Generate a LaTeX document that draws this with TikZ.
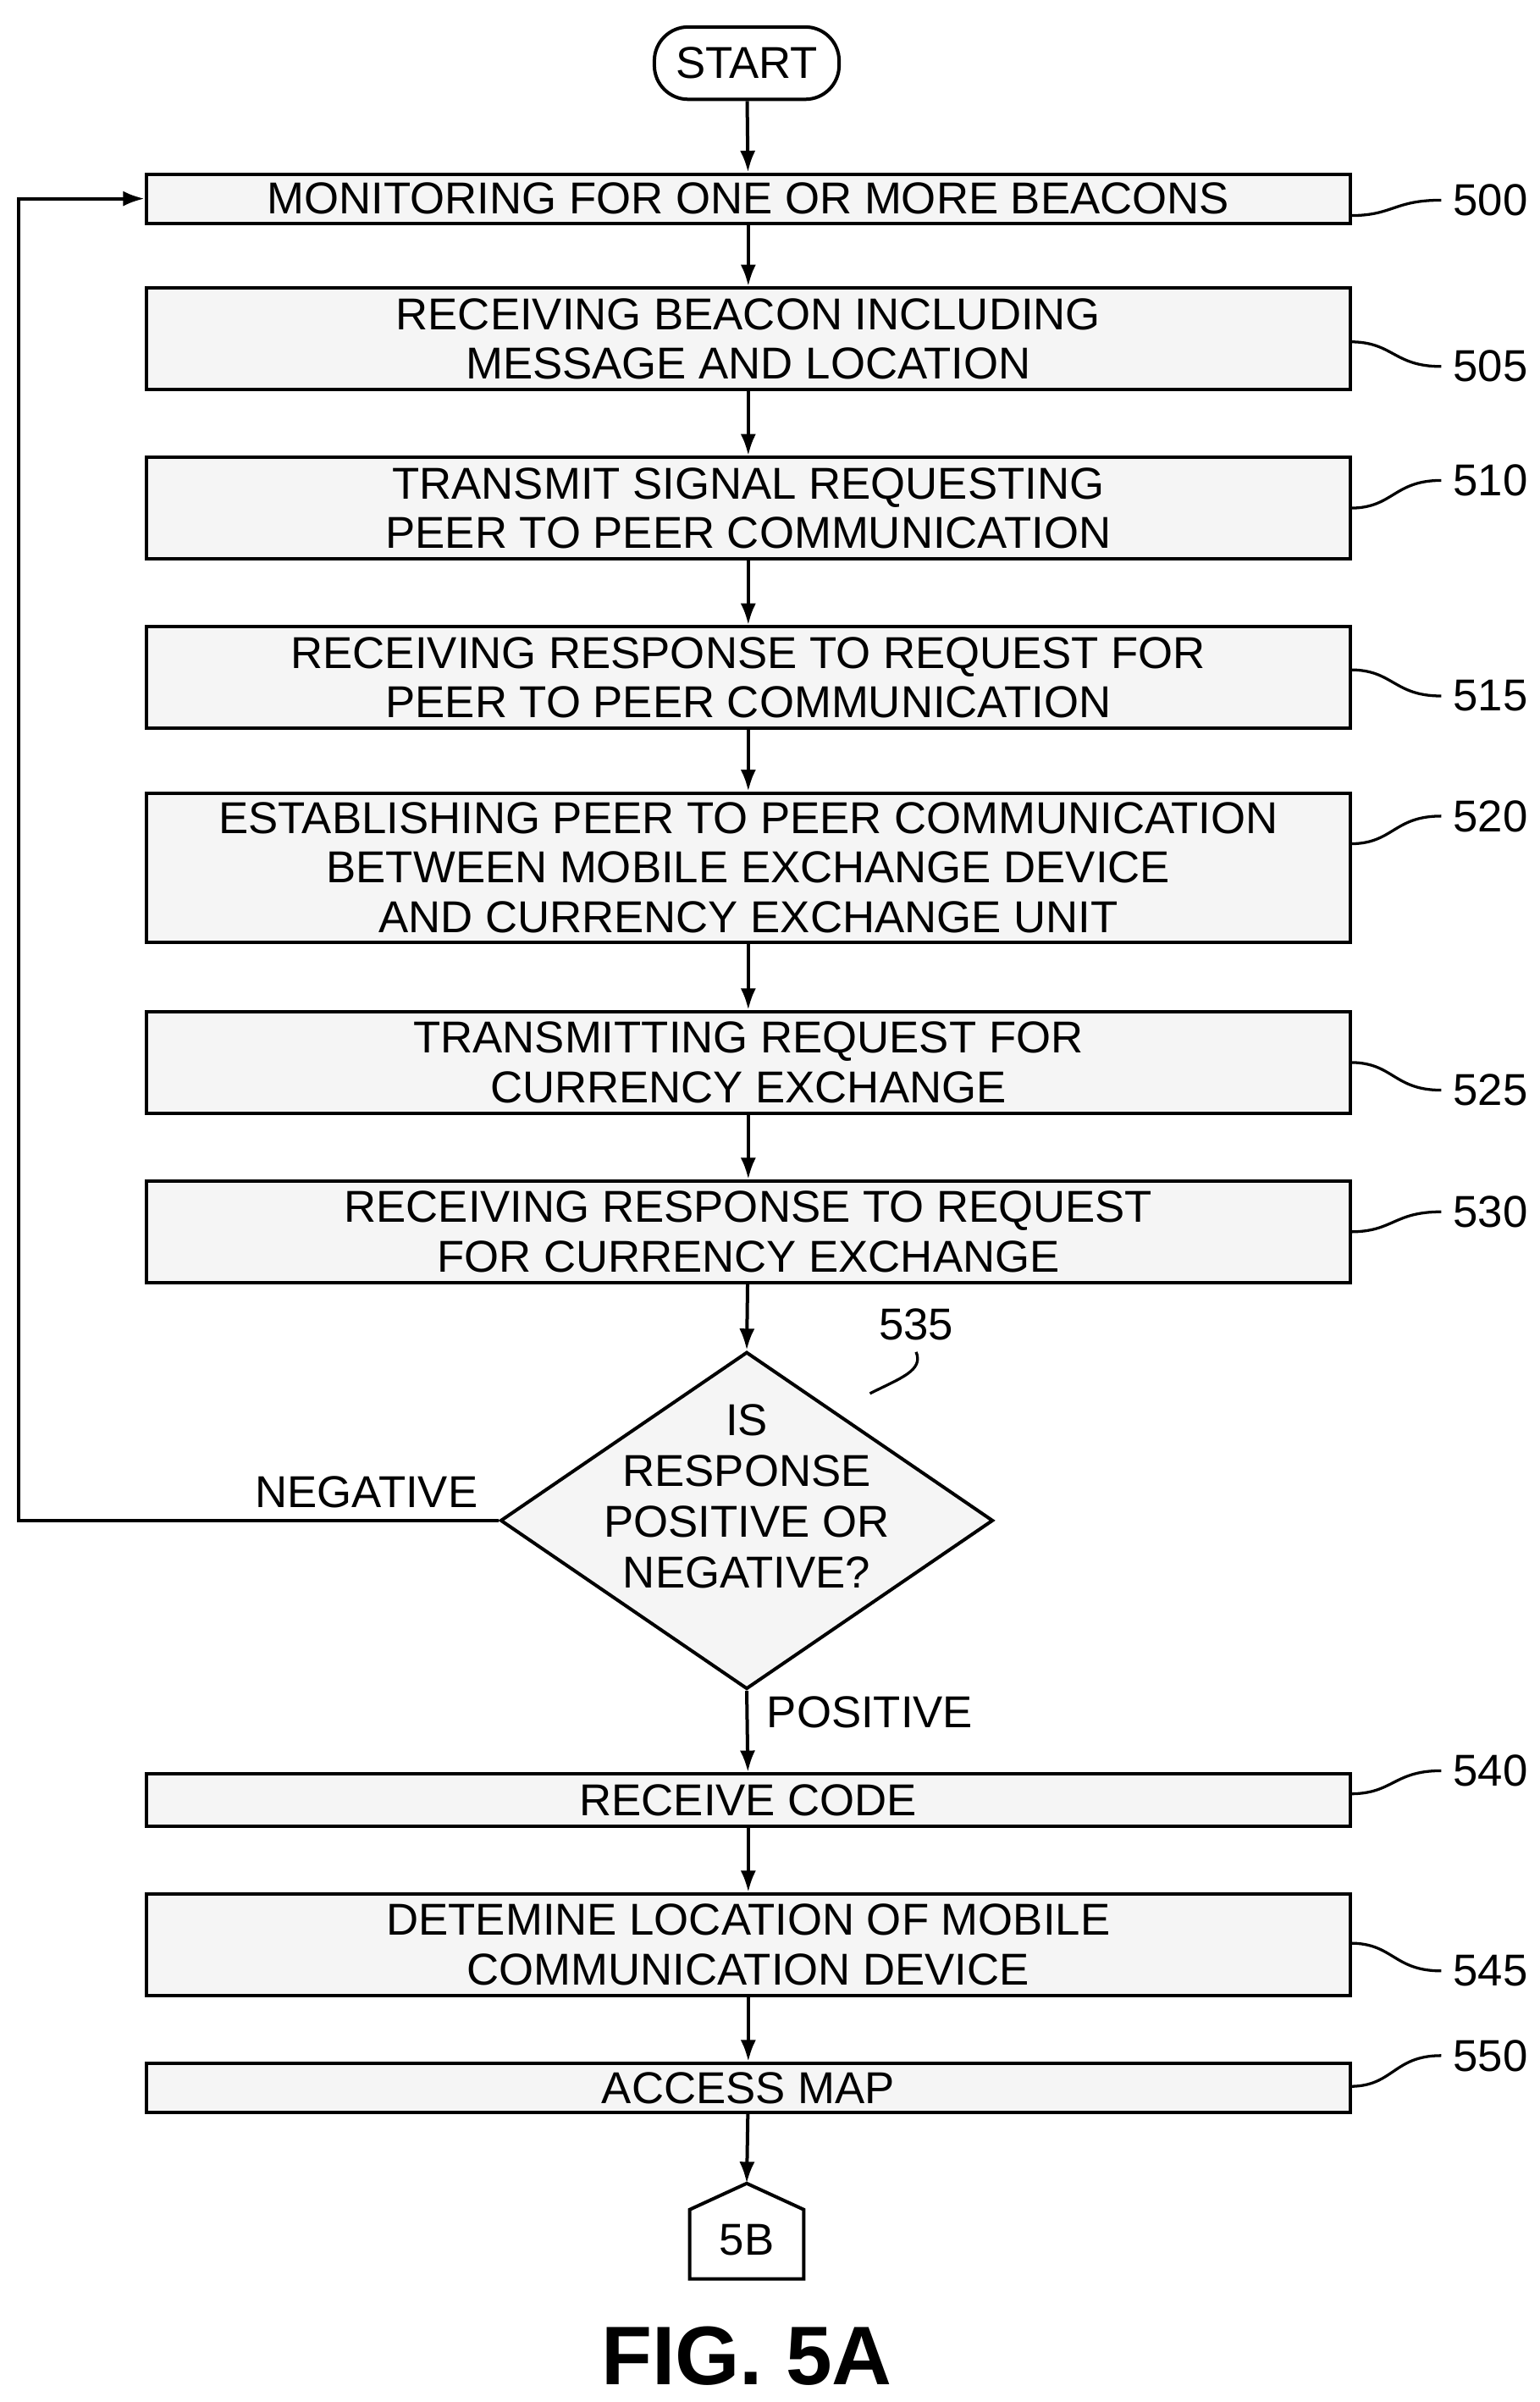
\documentclass[tikz,border=0pt]{standalone}
\usepackage{fontspec}
\setmainfont{Liberation Sans}
\usetikzlibrary{shapes.geometric,arrows.meta}
\begin{document}
\begin{tikzpicture}[x=0.5pt,y=-0.5pt,line width=1.1pt,
  box/.style={draw,fill=gray!8,minimum width=391pt,inner sep=0pt,align=center,font=\fontsize{14.5}{16}\selectfont},
  lab/.style={font=\fontsize{14.5}{16}\selectfont},
  arr/.style={-{Latex[length=7pt,width=5pt]}},
  lead/.style={line width=0.9pt}]
\useasboundingbox (0,0) rectangle (1000,1560);
\node[draw,rounded corners=11pt,minimum width=60pt,minimum height=23.5pt,lab] (st) at (485,41) {START};
\node[box,minimum height=16pt] (b500) at (486,129) {MONITORING FOR ONE OR MORE BEACONS};
\node[box,minimum height=33pt] (b505) at (486,220) {RECEIVING BEACON INCLUDING\\MESSAGE AND LOCATION};
\node[box,minimum height=33pt] (b510) at (486,330) {TRANSMIT SIGNAL REQUESTING\\PEER TO PEER COMMUNICATION};
\node[box,minimum height=33pt] (b515) at (486,440) {RECEIVING RESPONSE TO REQUEST FOR\\PEER TO PEER COMMUNICATION};
\node[box,minimum height=48.5pt] (b520) at (486,563.5) {ESTABLISHING PEER TO PEER COMMUNICATION\\BETWEEN MOBILE EXCHANGE DEVICE\\AND CURRENCY EXCHANGE UNIT};
\node[box,minimum height=33pt] (b525) at (486,690) {TRANSMITTING REQUEST FOR\\CURRENCY EXCHANGE};
\node[box,minimum height=33pt] (b530) at (486,800) {RECEIVING RESPONSE TO REQUEST\\FOR CURRENCY EXCHANGE};
\node[diamond,draw,fill=gray!8,minimum width=160pt,minimum height=109.5pt,inner sep=0pt,aspect=1.46] (d) at (485,987.5) {};
\node[lab,align=center,font=\fontsize{14.5}{16.5}\selectfont] at (485,972) {IS\\RESPONSE\\POSITIVE OR\\NEGATIVE?};
\node[box,minimum height=17pt] (b540) at (486,1169) {RECEIVE CODE};
\node[box,minimum height=33pt] (b545) at (486,1263) {DETEMINE LOCATION OF MOBILE\\COMMUNICATION DEVICE};
\node[box,minimum height=16pt] (b550) at (486,1356) {ACCESS MAP};
\coordinate (p) at (485,1418);
\draw (448,1480) -- (448,1435) -- (p) -- (522,1435) -- (522,1480) -- cycle;
\node[lab] (c5b) at (485,1455) {5B};
\node[font=\fontsize{27}{30}\selectfont\bfseries] (fig) at (485,1530) {FIG. 5A};
\draw[arr] (st) -- (b500);
\draw[arr] (b500) -- (b505);
\draw[arr] (b505) -- (b510);
\draw[arr] (b510) -- (b515);
\draw[arr] (b515) -- (b520);
\draw[arr] (b520) -- (b525);
\draw[arr] (b525) -- (b530);
\draw[arr] (b530) -- (d.north);
\draw[arr] (d.south) -- (b540);
\draw[arr] (b540) -- (b545);
\draw[arr] (b545) -- (b550);
\draw[arr] (b550) -- (p);
\coordinate (lp) at (12,987.5);
\draw[arr] (d.west) -- (lp) |- (b500.west);
\node[lab] (neg) at (238,969) {NEGATIVE};
\node[lab] (pos) at (565,1112) {POSITIVE};
% reference labels
\foreach \n/\y/\ly in {500/140/130, 505/222/238, 510/330/312, 515/435/452, 520/548/530, 525/690/708, 530/800/787, 540/1165/1150, 545/1262/1280, 550/1355/1335}{
  \node[lab] (r\n) at (968,\ly) {\n};
  \draw[lead] (877,\y) .. controls (905,\y) and (905,\ly) .. (r\n.west);
}
\node[lab] (r535) at (595,860) {535};
\draw[lead] (565,905) .. controls (585,895) and (600,890) .. (r535.south);
\end{tikzpicture}
\end{document}
